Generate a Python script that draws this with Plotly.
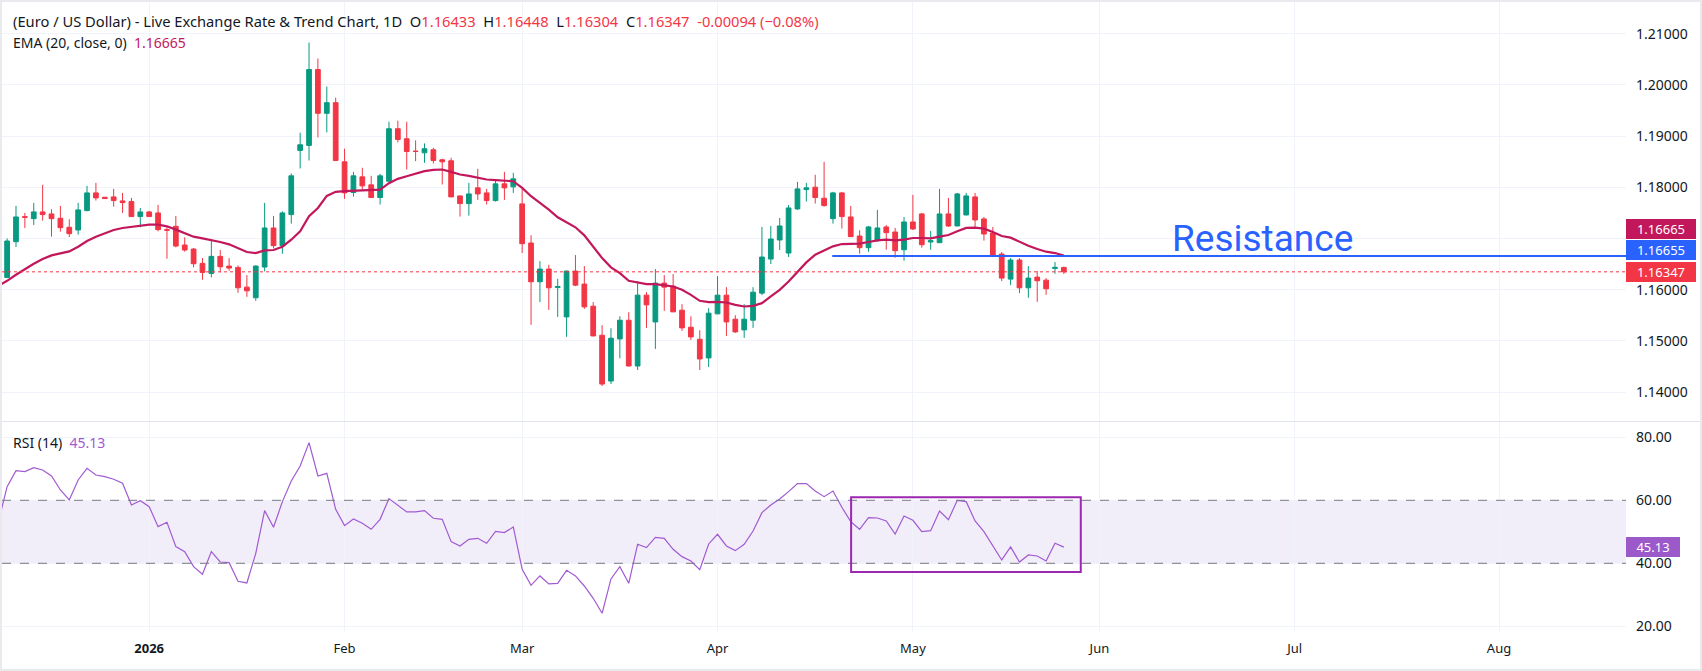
import pandas as pd
import plotly.graph_objects as go
from plotly.subplots import make_subplots

# ---------------- data ----------------
# business days Dec 9 2025 .. May 26 2026 (first day only carries indicator values)
dates = pd.bdate_range("2025-12-09", "2026-05-26") + pd.Timedelta(hours=12)
candle_dates = dates[1:]

open_ = [1.16238, 1.16936, 1.17425, 1.17386, 1.17517, 1.17478, 1.17393, 1.17217, 1.17164, 1.17543,
         1.17889, 1.17804, 1.17811, 1.17732, 1.17719, 1.17426, 1.17517, 1.17497, 1.17171, 1.17236,
         1.16871, 1.16792, 1.16512, 1.16316, 1.16649, 1.16459, 1.16433, 1.16048, 1.15840, 1.16440,
         1.17204, 1.16858, 1.17465, 1.18718, 1.18816, 1.20298, 1.19443, 1.19651, 1.18496, 1.17896,
         1.18202, 1.18046, 1.17798, 1.18117, 1.19142, 1.18946, 1.18705, 1.18672, 1.18731, 1.18535,
         1.18516, 1.17830, 1.17680, 1.17987, 1.17889, 1.17739, 1.18065, 1.18007, 1.17674, 1.16910,
         1.16153, 1.16401, 1.16040, 1.15467, 1.16362, 1.16107, 1.15676, 1.15108, 1.14214, 1.15037,
         1.15402, 1.14508, 1.15892, 1.15369, 1.16127, 1.16068, 1.15598, 1.15265, 1.15030, 1.14665,
         1.15526, 1.15892, 1.15422, 1.15213, 1.15402, 1.15931, 1.16597, 1.16969, 1.16714, 1.17576,
         1.17954, 1.18000, 1.17785, 1.17386, 1.17889, 1.17419, 1.17047, 1.16819, 1.16956, 1.17223,
         1.17125, 1.16779, 1.17321, 1.17478, 1.16930, 1.16916, 1.17478, 1.17243, 1.17458, 1.17811,
         1.17380, 1.17106, 1.16695, 1.16205, 1.16577, 1.16035, 1.16244, 1.16185, 1.16414, 1.16433]
high = [1.17001, 1.17634, 1.17497, 1.17693, 1.18046, 1.17569, 1.17634, 1.17373, 1.17693, 1.18026,
        1.18085, 1.17807, 1.17967, 1.17889, 1.17791, 1.17595, 1.17537, 1.17654, 1.17236, 1.17439,
        1.17021, 1.16812, 1.16616, 1.16988, 1.16773, 1.16616, 1.16473, 1.16283, 1.16473, 1.17693,
        1.17439, 1.17530, 1.18268, 1.19064, 1.20826, 1.20513, 1.19965, 1.19749, 1.18751, 1.18300,
        1.18379, 1.18222, 1.18261, 1.19279, 1.19299, 1.19279, 1.18914, 1.18855, 1.18770, 1.18555,
        1.18574, 1.17835, 1.18085, 1.18359, 1.17967, 1.18144, 1.18300, 1.18281, 1.17967, 1.17060,
        1.16557, 1.16486, 1.16211, 1.16375, 1.16675, 1.16460, 1.15755, 1.15304, 1.15245, 1.15480,
        1.15559, 1.16166, 1.15950, 1.16401, 1.16283, 1.16303, 1.15715, 1.15480, 1.15206, 1.15637,
        1.16264, 1.16048, 1.15500, 1.15715, 1.16048, 1.17223, 1.17243, 1.17400, 1.17654, 1.18104,
        1.18085, 1.18242, 1.18496, 1.17909, 1.17909, 1.17634, 1.17158, 1.17243, 1.17556, 1.17262,
        1.17204, 1.17419, 1.17850, 1.17497, 1.17145, 1.17967, 1.17791, 1.17889, 1.17889, 1.17889,
        1.17419, 1.17223, 1.16734, 1.16616, 1.16616, 1.16460, 1.16362, 1.16225, 1.16538, 1.16448]
low = [1.16225, 1.16832, 1.17204, 1.17262, 1.17347, 1.17034, 1.17132, 1.17027, 1.17073, 1.17530,
       1.17739, 1.17775, 1.17621, 1.17497, 1.17419, 1.17217, 1.17420, 1.17138, 1.16603, 1.16825,
       1.16740, 1.16433, 1.16192, 1.16238, 1.16336, 1.16368, 1.15937, 1.15859, 1.15781, 1.16355,
       1.16805, 1.16701, 1.17289, 1.18366, 1.18522, 1.18973, 1.19070, 1.18510, 1.17772, 1.17817,
       1.17935, 1.17790, 1.17661, 1.18100, 1.18875, 1.18346, 1.18509, 1.18477, 1.18463, 1.18052,
       1.17805, 1.17426, 1.17445, 1.17752, 1.17661, 1.17719, 1.17752, 1.17889, 1.16714, 1.15311,
       1.15755, 1.15604, 1.15467, 1.15076, 1.16068, 1.15624, 1.15090, 1.14116, 1.14155, 1.14658,
       1.14500, 1.14430, 1.15252, 1.14841, 1.15585, 1.15560, 1.15193, 1.15017, 1.14430, 1.14488,
       1.15520, 1.15095, 1.15154, 1.15056, 1.15252, 1.15892, 1.16499, 1.16773, 1.16636, 1.17556,
       1.17719, 1.17680, 1.17621, 1.17289, 1.17191, 1.17030, 1.16701, 1.16740, 1.16936, 1.16779,
       1.16623, 1.16564, 1.17164, 1.16819, 1.16779, 1.16910, 1.17223, 1.17240, 1.17450, 1.17204,
       1.16956, 1.16660, 1.16166, 1.16087, 1.15931, 1.15840, 1.15761, 1.15898, 1.16309, 1.16304]
close = [1.16949, 1.17419, 1.17412, 1.17517, 1.17465, 1.17386, 1.17210, 1.17093, 1.17556, 1.17889,
         1.17791, 1.17778, 1.17739, 1.17700, 1.17426, 1.17517, 1.17426, 1.17171, 1.17160, 1.16851,
         1.16773, 1.16505, 1.16336, 1.16649, 1.16446, 1.16420, 1.16035, 1.15976, 1.16460, 1.17204,
         1.16858, 1.17497, 1.18222, 1.18829, 1.20298, 1.19443, 1.19651, 1.18522, 1.17889, 1.18222,
         1.18026, 1.17798, 1.18222, 1.19142, 1.18933, 1.18698, 1.18698, 1.18751, 1.18522, 1.18496,
         1.17811, 1.17680, 1.17869, 1.17869, 1.17739, 1.18065, 1.17987, 1.18163, 1.16897, 1.16153,
         1.16401, 1.16035, 1.16061, 1.16362, 1.16087, 1.15663, 1.15095, 1.14155, 1.15050, 1.15402,
         1.14508, 1.15892, 1.15702, 1.16127, 1.16048, 1.15565, 1.15252, 1.15076, 1.14645, 1.15539,
         1.15892, 1.15369, 1.15174, 1.15422, 1.15950, 1.16636, 1.16988, 1.17243, 1.17595, 1.17967,
         1.17987, 1.17798, 1.17641, 1.17889, 1.17426, 1.17034, 1.16819, 1.17223, 1.17204, 1.17112,
         1.16760, 1.17321, 1.17184, 1.16877, 1.16956, 1.17478, 1.17243, 1.17869, 1.17830, 1.17360,
         1.17086, 1.16662, 1.16225, 1.16577, 1.16035, 1.16225, 1.16172, 1.16016, 1.16433, 1.16347]

ema20 = [1.16075, 1.16172, 1.16290, 1.16401, 1.16505, 1.16597, 1.16668, 1.16708, 1.16747, 1.16838,
         1.16949, 1.17034, 1.17106, 1.17165, 1.17204, 1.17230, 1.17249, 1.17269, 1.17269, 1.17236,
         1.17171, 1.17106, 1.17034, 1.17001, 1.16969, 1.16930, 1.16884, 1.16812, 1.16734, 1.16714,
         1.16766, 1.16773, 1.16838, 1.16975, 1.17138, 1.17432, 1.17595, 1.17830, 1.17909, 1.17922,
         1.17928, 1.17935, 1.17935, 1.17954, 1.18078, 1.18163, 1.18215, 1.18268, 1.18313, 1.18339,
         1.18346, 1.18300, 1.18248, 1.18222, 1.18189, 1.18150, 1.18137, 1.18131, 1.18117, 1.17987,
         1.17824, 1.17693, 1.17563, 1.17413, 1.17321, 1.17217, 1.17060, 1.16845, 1.16616, 1.16434,
         1.16323, 1.16172, 1.16146, 1.16107, 1.16107, 1.16088, 1.16061, 1.15996, 1.15898, 1.15781,
         1.15755, 1.15761, 1.15748, 1.15702, 1.15670, 1.15683, 1.15735, 1.15866, 1.15996, 1.16159,
         1.16355, 1.16531, 1.16682, 1.16760, 1.16845, 1.16890, 1.16897, 1.16897, 1.16930, 1.16962,
         1.16975, 1.16962, 1.16975, 1.17008, 1.17008, 1.17001, 1.17034, 1.17067, 1.17138, 1.17204,
         1.17210, 1.17191, 1.17125, 1.17047, 1.17014, 1.16930, 1.16858, 1.16792, 1.16740, 1.16714,
         1.16665]

rsi14 = [53.00, 64.34, 69.42, 69.10, 70.37, 69.63, 67.72, 63.28, 60.11, 66.46,
         70.16, 68.04, 67.51, 66.67, 65.40, 58.52, 59.89, 57.99, 51.64, 53.02,
         45.29, 43.70, 38.94, 36.51, 43.70, 40.42, 40.21, 34.29, 33.76, 43.17,
         56.72, 51.43, 59.58, 66.14, 70.90, 78.31, 67.72, 68.57, 57.14, 51.96,
         54.07, 52.70, 50.79, 53.97, 60.53, 58.52, 56.30, 56.30, 56.72, 54.29,
         53.97, 46.88, 45.50, 47.62, 47.94, 46.35, 50.16, 49.74, 51.53, 38.09,
         33.02, 35.98, 33.44, 33.65, 37.78, 35.98, 32.80, 28.89, 24.13, 35.03,
         38.94, 33.65, 46.03, 44.97, 48.25, 47.94, 44.44, 42.12, 40.74, 37.99,
         46.14, 49.21, 45.50, 44.02, 46.03, 50.26, 56.08, 58.52, 60.42, 62.75,
         65.29, 65.29, 62.96, 61.16, 62.96, 57.78, 53.23, 50.79, 54.50, 54.39,
         53.44, 49.31, 55.03, 53.65, 50.05, 50.37, 56.61, 53.86, 60.00, 59.58,
         53.44, 50.05, 45.50, 41.06, 45.19, 40.42, 42.65, 42.33, 40.74, 46.35,
         45.13]

assert len(dates) == 121 and len(ema20) == 121 and len(rsi14) == 121
assert all(len(a) == 120 for a in (open_, high, low, close))

price_ticks = [1.14, 1.15, 1.16, 1.17, 1.18, 1.19, 1.20, 1.21]
# 1.17000 sits under the value badges in the reference, so its label is not shown
price_labels = ["1.14000", "1.15000", "1.16000", "", "1.18000", "1.19000", "1.20000", "1.21000"]
rsi_ticks = [20, 40, 60, 80]
month_ticks = ["2026-01-01 12:00", "2026-02-02 12:00", "2026-03-02 12:00", "2026-04-01 12:00",
               "2026-05-01 12:00", "2026-06-01 12:00", "2026-07-01 12:00", "2026-08-03 12:00"]
month_labels = ["<b>2026</b>", "Feb", "Mar", "Apr", "May", "Jun", "Jul", "Aug"]

resistance = 1.16655
last_close = close[-1]
ema_last = ema20[-1]
rsi_last = rsi14[-1]

# ---------------- layout geometry ----------------
W, H = 1702, 671
ML, MR, MT, MB = 2, 76, 2, 39
PW, PH = W - ML - MR, H - MT - MB


def fx(px):
    return (px - ML) / PW


def fy(py):
    return (H - MB - py) / PH


FONT = "'Noto Sans', Roboto, sans-serif"
TXT = "#131722"
UP, DOWN = "#089981", "#f23645"
EMA_C = "#c2185b"
RSI_C = "#a05ad2"
BLUE = "#2962ff"
GRID = "#f0f3fa"

fig = make_subplots(rows=2, cols=1, shared_xaxes=True)

fig.add_trace(go.Candlestick(
    x=candle_dates, open=open_, high=high, low=low, close=close,
    increasing=dict(line=dict(color=UP, width=1), fillcolor=UP),
    decreasing=dict(line=dict(color=DOWN, width=1), fillcolor=DOWN),
    whiskerwidth=0, hoverinfo="skip"), row=1, col=1)
fig.add_trace(go.Scatter(x=dates, y=ema20, mode="lines",
                         line=dict(color=EMA_C, width=2.2), hoverinfo="skip"), row=1, col=1)
fig.add_trace(go.Scatter(x=dates, y=rsi14, mode="lines",
                         line=dict(color=RSI_C, width=1.2), hoverinfo="skip"), row=2, col=1)

xrange = ["2025-12-09 22:12", "2026-08-21 19:12"]
xcommon = dict(type="date", range=xrange, rangebreaks=[dict(bounds=["sat", "mon"])],
               showgrid=True, gridcolor=GRID, gridwidth=1, tickvals=month_ticks,
               zeroline=False, showline=False, ticks="")
fig.update_layout(
    xaxis=dict(**xcommon, showticklabels=False, rangeslider=dict(visible=False)),
    xaxis2=dict(**xcommon, ticktext=month_labels, tickfont=dict(family=FONT, size=13, color=TXT),
                ticklabelstandoff=7),
    yaxis=dict(domain=[fy(421), 1], range=[1.134336, 1.216172], side="right",
               tickvals=price_ticks, ticktext=price_labels,
               showgrid=True, gridcolor=GRID, zeroline=False, ticks="",
               tickfont=dict(family=FONT, size=14, color=TXT), ticklabelstandoff=9),
    yaxis2=dict(domain=[0, fy(422)], range=[18.19, 84.86], side="right",
                tickvals=rsi_ticks, ticktext=[f"{v:.2f}" for v in rsi_ticks],
                showgrid=True, gridcolor=GRID, zeroline=False, ticks="",
                tickfont=dict(family=FONT, size=14, color=TXT), ticklabelstandoff=9),
    width=W, height=H, margin=dict(l=ML, r=MR, t=MT, b=MB),
    paper_bgcolor="white", plot_bgcolor="white", showlegend=False,
    hovermode=False, boxgap=0.24,
)

shapes = [
    # rsi band and levels
    dict(type="rect", xref="paper", yref="y2", x0=0, x1=1, y0=40, y1=60,
         fillcolor="rgba(126,87,194,0.10)", line=dict(width=0), layer="below"),
    dict(type="line", xref="paper", yref="y2", x0=0, x1=1, y0=60, y1=60,
         line=dict(color="#787b86", width=1, dash="dash")),
    dict(type="line", xref="paper", yref="y2", x0=0, x1=1, y0=40, y1=40,
         line=dict(color="#787b86", width=1, dash="dash")),
    # last price line
    dict(type="line", xref="paper", yref="y", x0=0, x1=1, y0=last_close, y1=last_close,
         line=dict(color=DOWN, width=1, dash="dot")),
    # resistance line
    dict(type="line", xref="x", yref="y", x0="2026-04-20 10:00", x1="2026-09-30",
         y0=resistance, y1=resistance, line=dict(color=BLUE, width=2)),
    # rsi box
    dict(type="rect", xref="x2", yref="y2", x0="2026-04-22 13:00", x1="2026-05-28 09:40",
         y0=37.24, y1=60.95, line=dict(color="#9c27b0", width=2)),
    # pane separator
    dict(type="line", xref="paper", yref="paper", x0=fx(0), x1=fx(W), y0=fy(421.5), y1=fy(421.5),
         line=dict(color="#e0e3eb", width=1)),
    # outer frame
    dict(type="rect", xref="paper", yref="paper", x0=fx(0), x1=fx(W), y0=fy(0), y1=fy(H),
         line=dict(color="#e9e9ee", width=4)),
]
fig.update_layout(shapes=shapes)

nb = "\u00a0"


def red(s):
    return f'<span style="color:{DOWN}">{s}</span>'


header = ("(Euro / US Dollar) - Live Exchange Rate &amp; Trend Chart, 1D" + nb * 2 +
          "O" + red("1.16433") + nb * 2 + "H" + red("1.16448") + nb * 2 +
          "L" + red("1.16304") + nb * 2 + "C" + red(f"{last_close:.5f}") + nb * 2 +
          red("-0.00094 (\u22120.08%)"))

ann = [
    dict(text=header, xref="paper", yref="paper", x=fx(11), y=fy(20.5), xanchor="left",
         yanchor="middle", showarrow=False, font=dict(family=FONT, size=14.7, color=TXT)),
    dict(text="EMA (20, close, 0)" + nb * 2 + f'<span style="color:{EMA_C}">{ema_last:.5f}</span>',
         xref="paper", yref="paper", x=fx(11), y=fy(43), xanchor="left", yanchor="middle",
         showarrow=False, font=dict(family=FONT, size=14, color=TXT)),
    dict(text="RSI (14)" + nb * 2 + f'<span style="color:{RSI_C}">{rsi_last:.2f}</span>',
         xref="paper", yref="paper", x=fx(11), y=fy(442), xanchor="left", yanchor="middle",
         showarrow=False, font=dict(family=FONT, size=14, color=TXT)),
    dict(text="Resistance", xref="paper", yref="paper", x=fx(1262), y=fy(238),
         xanchor="center", yanchor="middle", showarrow=False,
         font=dict(family="Roboto, sans-serif", size=37, color=BLUE)),
]

badges = [
    (f"{ema_last:.5f}", EMA_C, "y", ema_last, 27, 70),
    (f"{resistance:.5f}", BLUE, "y", resistance, 6, 70),
    (f"{last_close:.5f}", DOWN, "y", last_close, -0.5, 70),
    (f"{rsi_last:.2f}", "#9b59c9", "y2", rsi_last, 0, 54),
]
for txt, col, yr, val, shift, w in badges:
    ann.append(dict(text=txt, xref="paper", yref=yr, x=1.0, y=val, yshift=shift,
                    xanchor="left", yanchor="middle", showarrow=False, bgcolor=col,
                    width=w, height=20, borderpad=0, borderwidth=0, align="center",
                    font=dict(family=FONT, size=13, color="white")))

fig.update_layout(annotations=ann)
fig.write_html("out.html")
